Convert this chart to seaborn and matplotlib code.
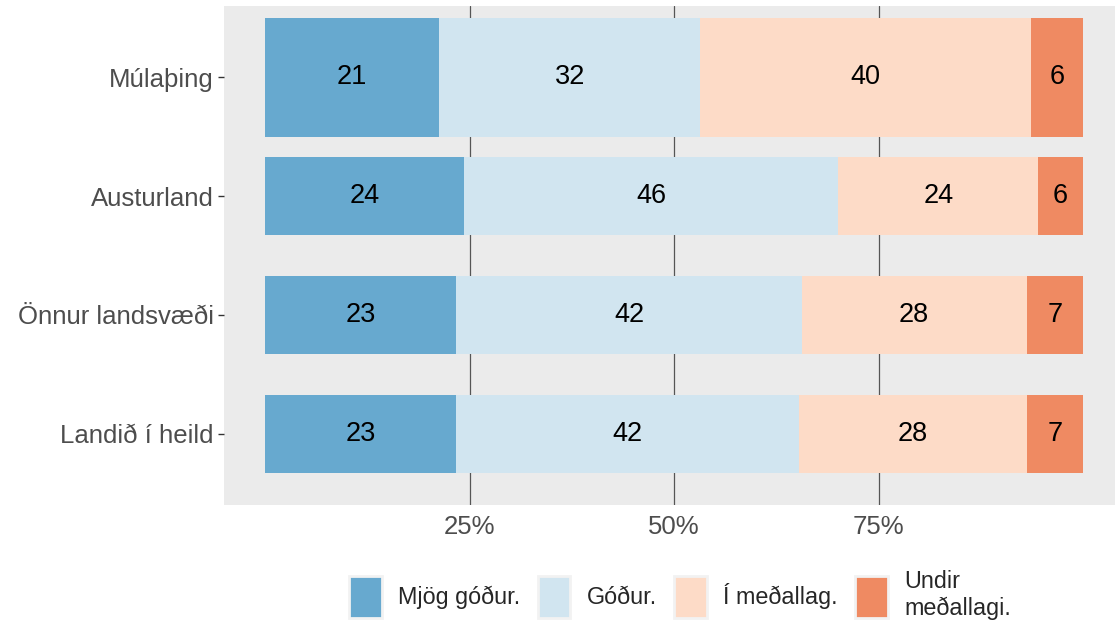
import matplotlib
matplotlib.use("Agg")
import matplotlib.pyplot as plt
from matplotlib.patches import Patch
import pandas as pd
import seaborn as sns

# data (percent of respondents per region)
regions = ["Múlaþing", "Austurland", "Önnur landsvæði", "Landið í heild"]
categories = ["Mjög góður.", "Góður.", "Í meðallag.", "Undir\nmeðallagi."]
mjog_godur = [21.3, 24.3, 23.4, 23.4]
godur = [31.9, 45.8, 42.2, 41.9]
i_medallag = [40.4, 24.4, 27.5, 27.8]
undir_medallagi = [6.4, 5.5, 6.9, 6.9]
colors = ["#67A9CF", "#D1E5F0", "#FDDBC7", "#EF8A62"]
xticks = [0.25, 0.50, 0.75]
xticklabels = ["25%", "50%", "75%"]

sns.set_theme(style="darkgrid", rc={"axes.facecolor": "#EBEBEB"})
plt.rcParams["font.family"] = ["Liberation Sans", "DejaVu Sans"]

# long table with start/end of each stacked segment
rows = []
for i, reg in enumerate(regions):
    start = 0.0
    for cat, vals in zip(categories, [mjog_godur, godur, i_medallag, undir_medallagi]):
        v = vals[i] / 100
        rows.append({"region": reg, "category": cat, "value": v, "start": start, "end": start + v})
        start += v
df = pd.DataFrame(rows)

fig = plt.figure(figsize=(11.15, 6.22), dpi=100)
ax = fig.add_axes([224 / 1115, 1 - 505 / 622, 1 - 224 / 1115, (505 - 6) / 622])

# draw cumulative bars, widest segment first so later ones sit on top
for cat, col in reversed(list(zip(categories, colors))):
    sub = df[df["category"] == cat]
    first = sub[sub["region"] == regions[0]]
    rest = sub[sub["region"] != regions[0]]
    sns.barplot(data=first, x="end", y="region", order=regions, width=1.0,
                color=col, saturation=1, errorbar=None, linewidth=0, ax=ax)
    sns.barplot(data=rest, x="end", y="region", order=regions, width=0.66,
                color=col, saturation=1, errorbar=None, linewidth=0, ax=ax)

for _, r in df.iterrows():
    ax.text(r["start"] + r["value"] / 2, regions.index(r["region"]),
            f"{r['value'] * 100:.0f}", ha="center", va="center",
            fontsize=19.5, color="black")

ax.set_xlim(-41 / 818, 850 / 818)
ax.set_ylim(3.6, -0.6)
ax.set_xticks(xticks)
ax.set_xticklabels(xticklabels)
ax.set_xlabel("")
ax.set_ylabel("")
ax.grid(axis="y", visible=False)
ax.grid(axis="x", color="#555555", linewidth=0.9)
ax.set_axisbelow(True)
for s in ax.spines.values():
    s.set_visible(False)
ax.tick_params(axis="x", length=0, pad=7, labelsize=18.5, labelcolor="#4D4D4D")
ax.tick_params(axis="y", length=4, width=1, color="#333333", pad=3.5,
               labelsize=18.5, labelcolor="#4D4D4D", left=True)

handles = [Patch(facecolor=c, edgecolor="#F2F2F2", linewidth=2) for c in colors]
fig.legend(handles, categories, loc="center", bbox_to_anchor=(680 / 1115, 1 - 595 / 622),
           ncol=4, frameon=False, fontsize=16.8, handlelength=1.4, handleheight=2.4,
           handletextpad=0.7, columnspacing=0.75)

fig.savefig("out.png", dpi=100)
